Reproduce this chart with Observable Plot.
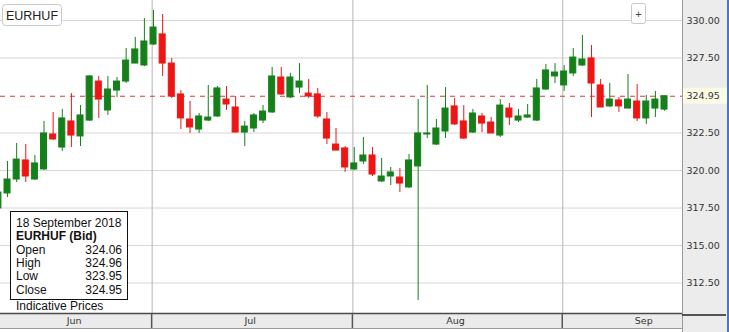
<!DOCTYPE html>
<html><head><meta charset="utf-8">
<script src="https://cdn.jsdelivr.net/npm/d3@7"></script>
<script src="https://cdn.jsdelivr.net/npm/@observablehq/plot@0.6"></script>
<style>
body{margin:0;background:#fff;}
#chart{position:relative;width:729px;height:332px;overflow:hidden;}
</style>
</head><body><div id="chart"></div>
<script>
const symbol = "EURHUF";
const dates = [
"2018-06-07","2018-06-08","2018-06-11","2018-06-12","2018-06-13","2018-06-14","2018-06-15","2018-06-18","2018-06-19","2018-06-20","2018-06-21","2018-06-22","2018-06-25","2018-06-26","2018-06-27","2018-06-28","2018-06-29",
"2018-07-02","2018-07-03","2018-07-04","2018-07-05","2018-07-06","2018-07-09","2018-07-10","2018-07-11","2018-07-12","2018-07-13","2018-07-16","2018-07-17","2018-07-18","2018-07-19","2018-07-20","2018-07-23","2018-07-24","2018-07-25","2018-07-26","2018-07-27","2018-07-30","2018-07-31",
"2018-08-01","2018-08-02","2018-08-03","2018-08-06","2018-08-07","2018-08-08","2018-08-09","2018-08-10","2018-08-13","2018-08-14","2018-08-15","2018-08-16","2018-08-17","2018-08-20","2018-08-21","2018-08-22","2018-08-23","2018-08-24","2018-08-27","2018-08-28","2018-08-29","2018-08-30","2018-08-31",
"2018-09-03","2018-09-04","2018-09-05","2018-09-06","2018-09-07","2018-09-10","2018-09-11","2018-09-12","2018-09-13","2018-09-14","2018-09-17","2018-09-18"];
const open = [317.47,318.47,319.4,320.67,319.4,320.07,322.4,321.53,323.27,322.27,323.33,325.93,324.0,325.33,325.93,327.13,327.0,
328.4,329.07,327.13,325.07,323.4,322.73,323.33,323.6,324.73,324.2,322.53,322.8,323.33,323.87,326.2,324.87,325.53,325.13,325.07,323.4,321.73,321.47,
320.07,320.6,321.0,319.27,319.6,319.53,318.87,320.27,322.4,321.73,322.6,324.27,323.27,322.53,323.6,323.2,322.33,324.13,323.33,323.53,323.33,325.4,326.27,
325.67,326.47,327.0,327.47,325.67,324.27,324.67,324.13,324.6,323.47,324.13,324.06];
const high = [318.8,320.6,321.8,321.73,321.0,323.27,323.87,324.07,325.13,324.33,326.33,326.27,326.27,326.2,328.13,328.87,330.13,
330.67,330.4,327.47,325.33,324.6,323.8,325.67,325.6,325.6,324.93,323.27,323.8,324.33,326.87,326.87,326.47,327.13,326.07,325.47,323.87,322.8,321.6,
321.53,322.2,321.53,320.8,320.2,320.13,321.07,324.73,325.67,323.4,325.53,324.8,324.33,324.07,323.8,323.53,324.73,324.47,324.07,324.4,326.07,327.07,327.13,
327.0,328.13,329.0,328.33,326.07,325.8,324.87,326.4,325.73,325.0,325.27,324.96];
const low = [317.2,318.2,319.2,319.2,319.33,320.0,322.0,321.27,321.53,321.6,323.27,323.47,323.67,324.87,325.8,327.13,326.93,
328.33,326.27,324.8,322.73,322.47,322.47,323.27,323.53,324.0,322.53,321.6,322.53,323.13,323.8,325.0,324.8,325.13,324.8,323.47,321.73,321.33,319.87,
320.0,320.4,319.6,319.2,319.0,318.53,318.8,311.33,322.13,321.67,322.13,323.0,322.07,322.47,322.53,322.47,322.2,323.0,323.2,323.47,323.27,325.33,325.8,
325.27,326.27,326.93,323.53,324.2,324.2,323.87,324.13,323.27,323.07,323.53,323.95];
const close = [318.53,319.4,320.73,319.6,320.47,322.47,322.07,323.47,322.33,323.67,326.27,324.73,325.4,325.93,327.33,328.07,328.6,
329.53,327.13,324.93,323.47,322.87,323.6,323.53,325.47,324.4,322.53,322.93,323.67,323.93,326.27,325.07,326.2,325.93,324.93,323.6,322.13,321.33,320.2,
320.47,321.0,319.73,319.6,319.87,319.13,320.67,322.47,322.47,322.8,324.13,323.07,322.13,323.8,323.13,322.47,324.33,323.53,323.6,323.67,325.47,326.67,326.53,
326.6,327.53,327.4,325.8,324.2,324.73,324.27,324.73,323.47,324.6,324.73,324.95];
const yTicks = [330, 327.5, 322.5, 320, 317.5, 315, 312.5];
const monthNames = ["Jun","Jul","Aug","Sep"];
const infoTitle = "18 September 2018";
const infoSeries = "EURHUF (Bid)";
const infoLabels = ["Open","High","Low","Close"];
const footnote = "Indicative Prices";

const GREEN = "#15801a", RED = "#ee1515";
const data = dates.map((d, i) => ({i, date: d, o: open[i], h: high[i], l: low[i], c: close[i], up: close[i] >= open[i]}));
const last = data[data.length - 1];

const monthStarts = [];
dates.forEach((d, i) => { if (i > 0 && d.slice(5,7) !== dates[i-1].slice(5,7)) monthStarts.push(i); });

const xDomain = [0.23, 74.97];
const yDomain = [310.467, 331.333];
const sepX = monthStarts.map(i => i - 0.15);
const bounds = [xDomain[0], ...sepX, 80.1];
const months = monthNames.map((m, k) => ({m, x: (bounds[k] + bounds[k+1]) / 2 - 0.25}));

const AX_FONT = "DejaVu Sans, Verdana, sans-serif";
const svg = Plot.plot({
  width: 729, height: 332,
  marginLeft: 0, marginRight: 47, marginTop: 0, marginBottom: 19,
  x: {type: "linear", domain: xDomain, axis: null},
  y: {domain: yDomain, axis: null},
  style: {background: "transparent", fontFamily: AX_FONT},
  marks: [
    Plot.gridY(yTicks, {stroke: "#d6d6d6", strokeOpacity: 1, strokeWidth: 1}),
    Plot.ruleX(sepX, {stroke: "#b4b4b4", strokeOpacity: 1}),
    Plot.ruleY([last.c], {stroke: "#d23a3a", strokeDasharray: "5,5", strokeWidth: 1}),
    Plot.ruleX(data, {x: "i", y1: "l", y2: "h", stroke: d => d.up ? GREEN : RED, strokeWidth: 1, clip: true}),
    Plot.rect(data, {x1: d => d.i - 0.33, x2: d => d.i + 0.33, y1: d => Math.min(d.o, d.c), y2: d => Math.max(d.o, d.c),
      fill: d => d.up ? GREEN : RED, stroke: d => d.up ? GREEN : RED, strokeWidth: 1, clip: true}),
    Plot.text(yTicks, {y: d => d, frameAnchor: "right", dx: 4, textAnchor: "start", text: d => d.toFixed(2),
      fontSize: 9.5, fill: "#333", fontFamily: AX_FONT}),
    Plot.text([last.c], {y: d => d, frameAnchor: "right", dx: 4, textAnchor: "start", text: d => d.toFixed(2),
      fontSize: 9.5, fill: "#333", fontFamily: AX_FONT}),
    Plot.text(months, {x: "x", text: "m", frameAnchor: "bottom", dy: 10, fontSize: 9.5, fill: "#333", fontFamily: AX_FONT})
  ]
});

document.getElementById("chart").appendChild(svg);
const xs = svg.scale("x"), ys = svg.scale("y");
const sx = v => xs.apply(v), sy = v => ys.apply(v);
const root = d3.select(svg);
const bg = root.insert("g", ":first-child");
bg.append("rect").attr("x", 0).attr("y", 0).attr("width", 682).attr("height", 313).attr("fill", "#fff");
bg.append("rect").attr("x", 682).attr("y", 0).attr("width", 47).attr("height", 332).attr("fill", "#ececec");
bg.append("rect").attr("x", 682).attr("y", sy(last.c) - 8).attr("width", 47).attr("height", 16).attr("fill", "#fafae6");
bg.append("rect").attr("x", 0).attr("y", 313).attr("width", 682).attr("height", 15).attr("fill", "#ebebeb");
const fg = root.append("g");
fg.append("line").attr("x1", 682.5).attr("x2", 682.5).attr("y1", 0).attr("y2", 332).attr("stroke", "#9a9a9a");
fg.append("line").attr("x1", 0).attr("x2", 682).attr("y1", 313.5).attr("y2", 313.5).attr("stroke", "#4a4a4a").attr("stroke-width", 1.5);
fg.append("line").attr("x1", 0).attr("x2", 682).attr("y1", 328.5).attr("y2", 328.5).attr("stroke", "#9a9a9a");
fg.append("line").attr("x1", 682).attr("x2", 726).attr("y1", 315).attr("y2", 315).attr("stroke", "#222").attr("stroke-width", 1.5);
fg.append("line").attr("x1", 728).attr("x2", 728).attr("y1", 0).attr("y2", 332).attr("stroke", "#3c7dc4").attr("stroke-width", 2);
sepX.forEach(v => fg.append("line").attr("x1", sx(v)).attr("x2", sx(v)).attr("y1", 313).attr("y2", 328).attr("stroke", "#555").attr("stroke-width", 1.5));

const tb = fg.append("g");
tb.append("rect").attr("x", 2.5).attr("y", 4.5).attr("width", 59).attr("height", 21).attr("rx", 3).attr("fill", "#fff").attr("stroke", "#c8c8c8");
tb.append("text").attr("x", 32).attr("y", 19.5).attr("text-anchor", "middle").attr("font-family", "Liberation Sans, Arial, sans-serif").attr("font-size", 12.5).attr("fill", "#222").text(symbol);
tb.append("rect").attr("x", 631.5).attr("y", 3.5).attr("width", 14).attr("height", 20).attr("rx", 2).attr("fill", "#fff").attr("stroke", "#c8c8c8");
tb.append("text").attr("x", 638.5).attr("y", 17.5).attr("text-anchor", "middle").attr("font-family", "Liberation Sans, Arial, sans-serif").attr("font-size", 11).attr("fill", "#444").text("+");

const ib = fg.append("g").attr("font-family", "Liberation Sans, Arial, sans-serif").attr("font-size", 12).attr("fill", "#111").attr("text-anchor", "start");
ib.append("rect").attr("x", 10.5).attr("y", 211.5).attr("width", 117).attr("height", 88).attr("fill", "#fff").attr("stroke", "#111");
ib.append("text").attr("x", 16).attr("y", 227).attr("text-anchor", "start").text(infoTitle);
ib.append("text").attr("x", 16).attr("y", 240.3).attr("text-anchor", "start").attr("font-weight", "bold").text(infoSeries);
const vals = [last.o, last.h, last.l, last.c];
infoLabels.forEach((lab, k) => {
  ib.append("text").attr("x", 16).attr("y", 253.6 + k * 13.3).attr("text-anchor", "start").text(lab);
  ib.append("text").attr("x", 122).attr("y", 253.6 + k * 13.3).attr("text-anchor", "end").text(vals[k].toFixed(2));
});
ib.append("text").attr("x", 16).attr("y", 310).attr("text-anchor", "start").text(footnote);
</script>
</body></html>
